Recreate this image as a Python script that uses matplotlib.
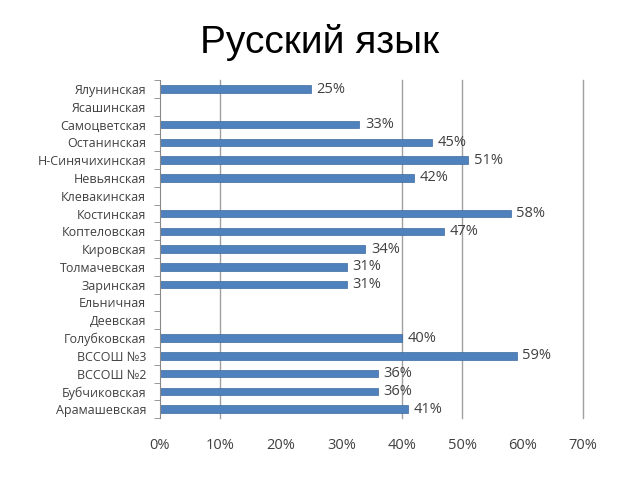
import numpy as np
import matplotlib
matplotlib.use("Agg")
import matplotlib.pyplot as plt

schools = ["Ялунинская", "Ясашинская", "Самоцветская", "Останинская", "Н-Синячихинская",
           "Невьянская", "Клевакинская", "Костинская", "Коптеловская", "Кировская",
           "Толмачевская", "Заринская", "Ельничная", "Деевская", "Голубковская",
           "ВССОШ №3", "ВССОШ №2", "Бубчиковская", "Арамашевская"]
values = [25, None, 33, 45, 51, 42, None, 58, 47, 34, 31, 31, None, None, 40, 59, 36, 36, 41]
xticks = [0, 10, 20, 30, 40, 50, 60, 70]
gridlines = [10, 40, 50, 70]

plt.rcParams['font.family'] = ['Open Sans', 'DejaVu Sans']

fig = plt.figure(figsize=(6.4, 4.8), dpi=100)
ax = fig.add_axes([0.25, 0.129, 0.661, 0.704])

n = len(schools)
ypos = np.arange(n)[::-1]
vals = np.array([np.nan if v is None else v for v in values], dtype=float)

for g in gridlines:
    ax.axvline(g, color="#a0a0a0", lw=1, zorder=0, clip_on=False)

ax.barh(ypos, np.nan_to_num(vals), height=0.42, color="#4F81BD", edgecolor="#3c6a9e", lw=0.5, zorder=2)
for y, v in zip(ypos, vals):
    if not np.isnan(v):
        ax.text(v + 0.9, y, f"{int(v)}%", va="center", ha="left", fontsize=10.5, color="#404040")

ax.set_xlim(0, 70)
ax.set_ylim(-0.5, n - 0.5)
ax.set_xticks(xticks)
ax.set_xticklabels([f"{t}%" for t in xticks], fontsize=10.5, color="#404040")
ax.set_yticks(ypos)
ax.set_yticklabels(schools, fontsize=9, color="#404040")
ax.set_yticks(np.arange(-0.5, n, 1), minor=True)
ax.tick_params(axis="y", which="major", length=0, pad=10)
ax.tick_params(axis="y", which="minor", length=4, color="#888888")
ax.tick_params(axis="x", length=0, pad=14)
for s in ["top", "right", "bottom"]:
    ax.spines[s].set_visible(False)
ax.spines["left"].set_color("#888888")

fig.text(0.5, 0.912, "Русский язык", ha="center", va="center", fontsize=28,
         family=["Liberation Sans", "DejaVu Sans"], color="#000000")

fig.savefig("out.png", dpi=100)
